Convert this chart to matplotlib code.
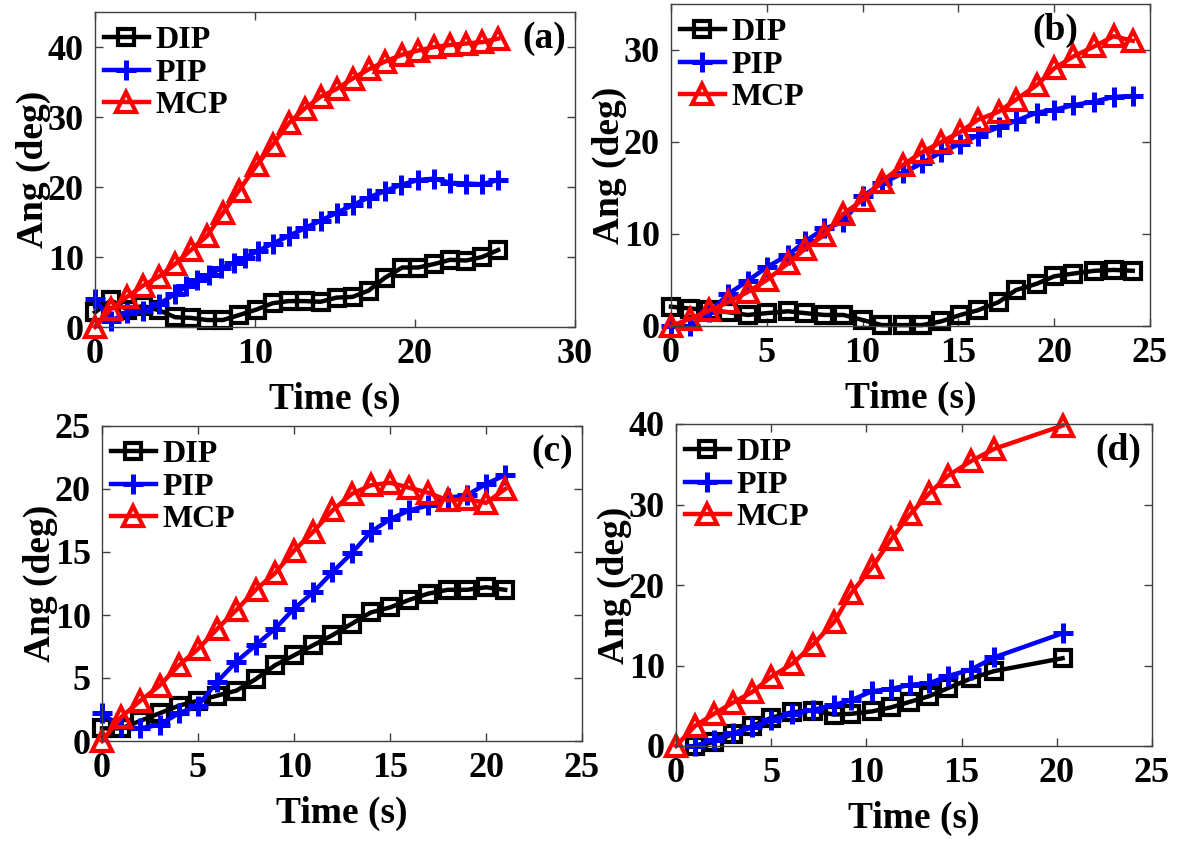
import matplotlib
matplotlib.use("Agg")
import matplotlib.pyplot as plt

plt.rcParams["font.family"] = ["Liberation Serif", "DejaVu Serif"]
plt.rcParams["font.weight"] = "bold"
plt.rcParams["axes.labelweight"] = "bold"

# ---------------- panel (a) ----------------
t_a = [0, 1, 2, 3, 4, 5, 6, 7, 8, 9, 10.1, 11.1, 12.1, 13.1, 14.1, 15.1,
       16.1, 17.1, 18.1, 19.2, 20.2, 21.2, 22.2, 23.2, 24.2, 25.2]
dip_a = [2.1, 3.8, 2.5, 3.0, 2.4, 1.4, 1.3, 1.0, 1.0, 1.7, 2.5, 3.4, 3.7, 3.7,
         3.6, 4.2, 4.3, 5.2, 7.0, 8.5, 8.5, 9.0, 9.6, 9.5, 10.0, 11.0]
mcp_a = [0, 2.6, 4.3, 5.9, 7.2, 9.0, 11.0, 13.0, 16.3, 19.5, 23.1, 26.0, 29.1,
         31.2, 32.9, 34.0, 35.5, 36.8, 37.9, 38.9, 39.5, 40.0, 40.3, 40.5,
         40.7, 41.2]
t_pip_a = [0, 1, 2, 3, 4, 5, 5.7, 6.4, 7.1, 7.9, 8.7, 9.4, 10.2, 11.1, 12.1,
           13.1, 14.1, 15.1, 16.1, 17.1, 18.1, 19.1, 20.2, 21.2, 22.2, 23.2,
           24.2, 25.2]
pip_a = [4.0, 0.9, 2.0, 2.3, 3.3, 4.7, 5.8, 6.7, 7.5, 8.4, 9.2, 9.9, 10.9,
         11.9, 13.0, 14.1, 15.2, 16.3, 17.4, 18.5, 19.4, 20.3, 21.0, 21.2,
         20.6, 20.5, 20.4, 21.0]

# ---------------- panel (b) ----------------
t_b = [0, 1, 2, 3, 4, 5, 6.1, 7, 8, 9, 10, 11, 12.1, 13.1, 14.1, 15.1, 16,
       17.1, 18, 19.1, 20, 21, 22.1, 23.1, 24.1]
dip_b = [2.1, 1.9, 1.7, 1.5, 1.2, 1.4, 1.6, 1.4, 1.2, 1.2, 0.65, 0.1, 0.1,
         0.1, 0.5, 1.2, 1.7, 2.6, 3.9, 4.6, 5.4, 5.7, 6.0, 6.1, 6.0]
pip_b = [0.0, 0.0, 1.5, 3.5, 4.9, 6.4, 7.7, 9.2, 10.6, 11.3, 14.1, 15.5,
         16.6, 17.7, 18.9, 19.8, 20.7, 21.6, 22.3, 23.2, 23.5, 24.0, 24.4,
         24.9, 25.0]
mcp_b = [0, 0.8, 1.7, 2.6, 3.7, 5.0, 6.8, 8.4, 9.9, 12.2, 13.7, 15.7, 17.5,
         18.9, 20.0, 21.1, 22.4, 23.3, 24.6, 26.2, 28.0, 29.3, 30.4, 31.5, 31.0]

# ---------------- panel (c) ----------------
t_c = [0, 1, 2, 3, 4, 5, 6, 7, 8, 9, 10, 11, 12, 13, 14, 15, 16, 17, 18, 19,
       20, 21]
dip_c = [1.0, 1.0, 1.6, 2.2, 2.8, 3.2, 3.6, 4.0, 4.9, 6.0, 6.8, 7.6, 8.4, 9.3,
         10.2, 10.6, 11.2, 11.7, 12.0, 12.0, 12.2, 12.0]
pip_c = [2.2, 1.1, 1.0, 1.3, 2.2, 2.8, 4.7, 6.3, 7.6, 8.9, 10.5, 11.8, 13.4,
         14.9, 16.6, 17.6, 18.3, 18.7, 19.3, 19.5, 20.4, 21.1]
mcp_c = [0, 1.9, 3.2, 4.4, 6.0, 7.3, 8.9, 10.4, 12.0, 13.3, 15.1, 16.6, 18.3,
         19.6, 20.3, 20.5, 20.1, 19.7, 19.1, 19.2, 18.9, 20.0]

# ---------------- panel (d) ----------------
t_d = [0, 1, 2, 3, 4, 5, 6.1, 7.2, 8.3, 9.2, 10.3, 11.3, 12.3, 13.3, 14.3,
       15.5, 16.7, 20.3]
mcp_d = [0, 2.5, 4.0, 5.4, 6.7, 8.6, 10.2, 12.6, 15.4, 19.0, 22.2, 25.7, 28.8,
         31.4, 33.6, 35.4, 36.9, 39.8]
t_d_joint = [1, 2, 3, 4, 5, 6.1, 7.2, 8.3, 9.2, 10.3, 11.3, 12.3, 13.3, 14.3,
             15.5, 16.7, 20.3]
dip_d = [0, 0.5, 1.5, 2.5, 3.5, 4.2, 4.4, 3.9, 4.0, 4.3, 4.8, 5.5, 6.2, 7.2,
         8.4, 9.3, 10.9]
pip_d = [0, 0.8, 1.6, 2.3, 3.2, 4.0, 4.5, 5.1, 5.7, 6.8, 7.1, 7.6, 7.8, 8.7,
         9.5, 11.0, 14.0]

series_names = ["DIP", "PIP", "MCP"]
panel_tags = ["(a)", "(b)", "(c)", "(d)"]

W, H = 1179, 843
fig = plt.figure(figsize=(W / 100, H / 100), dpi=100)


def add_axes_px(left, top, right, bottom):
    return fig.add_axes([left / W, 1 - bottom / H, (right - left) / W,
                         (bottom - top) / H])


panels = [
    dict(box=(95, 12, 575, 327), xlim=(0, 30), xticks=[0, 10, 20, 30],
         ylim=(0, 45), yticks=[0, 10, 20, 30, 40],
         dip=(t_a, dip_a), pip=(t_pip_a, pip_a), mcp=(t_a, mcp_a), tag_dx=9),
    dict(box=(671, 4, 1150, 326), xlim=(0, 25), xticks=[0, 5, 10, 15, 20, 25],
         ylim=(0, 35), yticks=[0, 10, 20, 30],
         dip=(t_b, dip_b), pip=(t_b, pip_b), mcp=(t_b, mcp_b), tag_dx=72),
    dict(box=(102, 426, 582, 741), xlim=(0, 25), xticks=[0, 5, 10, 15, 20, 25],
         ylim=(0, 25), yticks=[0, 5, 10, 15, 20, 25],
         dip=(t_c, dip_c), pip=(t_c, pip_c), mcp=(t_c, mcp_c), tag_dx=9),
    dict(box=(676, 424, 1152, 746), xlim=(0, 25), xticks=[0, 5, 10, 15, 20, 25],
         ylim=(0, 40), yticks=[0, 10, 20, 30, 40],
         dip=(t_d_joint, dip_d), pip=(t_d_joint, pip_d), mcp=(t_d, mcp_d),
         tag_dx=11),
]

styles = {
    "dip": dict(color="black", marker="s", markersize=11.5,
                markerfacecolor="none", markeredgewidth=3.0),
    "pip": dict(color="blue", marker="+", markersize=15, markeredgewidth=3.6),
    "mcp": dict(color="red", marker="^", markersize=15, markerfacecolor="none",
                markeredgewidth=3.0),
}

for p, tag in zip(panels, panel_tags):
    left, top, right, bottom = p["box"]
    ax = add_axes_px(left, top, right, bottom)
    w_px, h_px = right - left, bottom - top
    for key, name in zip(["dip", "pip", "mcp"], series_names):
        x, y = p[key]
        ax.plot(x, y, linewidth=3.2, label=name, clip_on=False, **styles[key])
    ax.set_xlim(*p["xlim"])
    ax.set_ylim(*p["ylim"])
    ax.set_xticks(p["xticks"])
    ax.set_yticks(p["yticks"])
    ax.tick_params(direction="in", top=True, right=True, length=6, width=1,
                   color="#404040", labelsize=26, pad=8)
    for lab in ax.get_xticklabels() + ax.get_yticklabels():
        lab.set_fontweight("bold")
    for s in ax.spines.values():
        s.set_color("#404040")
        s.set_linewidth(1.0)
    ax.set_xlabel("Time (s)", fontsize=27, fontweight="bold")
    ax.set_ylabel("Ang (deg)", fontsize=27, fontweight="bold")
    ax.xaxis.set_label_coords(0.5, -72 / h_px)
    ax.xaxis.label.set_va("center")
    ax.yaxis.set_label_coords(-62 / w_px, 0.5)
    ax.yaxis.label.set_va("center")
    ax.text(1 - p["tag_dx"] / w_px, 1 - 26 / h_px, tag, transform=ax.transAxes,
            ha="right", va="center", fontsize=27, fontweight="bold")
    ax.legend(loc="upper left", bbox_to_anchor=(9 / w_px, 1 - 14 / h_px),
              frameon=False, handlelength=1.4, handletextpad=0.2,
              labelspacing=0.1, borderpad=0, borderaxespad=0, numpoints=1,
              prop=dict(weight="bold", size=23))

fig.savefig("out.png", dpi=100)
